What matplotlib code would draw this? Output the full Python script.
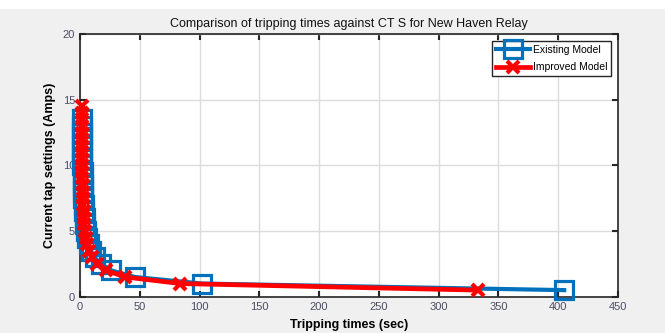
import matplotlib
matplotlib.use("Agg")
import matplotlib.pyplot as plt
from matplotlib.patches import Rectangle

plt.rcParams['font.family'] = ['Liberation Sans Narrow', 'Liberation Sans', 'DejaVu Sans']

# Current tap settings (Amps)
ct_existing = [0.5, 1.0, 1.5, 2.0, 2.5, 3.0, 3.5, 4.0, 4.5, 5.0, 5.5, 6.0, 6.5, 7.0,
               7.5, 8.0, 8.5, 9.0, 9.5, 10.0, 10.5, 11.0, 11.5, 12.0, 12.5, 13.0, 13.5]
t_existing = [405, 102, 45.9, 26.3, 17.2, 12.2, 9.2, 7.3, 6.0, 5.0, 4.3, 3.8, 3.4, 3.1,
              2.8, 2.6, 2.4, 2.25, 2.1, 2.0, 1.92, 1.83, 1.76, 1.70, 1.65, 1.60, 1.55]

ct_improved = [0.5, 1.0, 1.5, 2.0, 2.5, 3.0, 3.5, 4.0, 4.5, 5.0, 5.5, 6.0, 6.5, 7.0,
               7.5, 8.0, 8.5, 9.0, 9.5, 10.0, 10.5, 11.0, 11.5, 12.0, 12.5, 13.0, 13.5,
               14.0, 14.5]
t_improved = [333, 84, 37.9, 21.8, 14.3, 10.2, 7.8, 6.2, 5.1, 4.3, 3.7, 3.3, 3.0, 2.7,
              2.5, 2.3, 2.15, 2.0, 1.92, 1.83, 1.75, 1.69, 1.63, 1.58, 1.53, 1.49, 1.46,
              1.42, 1.39]

x_ticks = [0, 50, 100, 150, 200, 250, 300, 350, 400, 450]
y_ticks = [0, 5, 10, 15, 20]

fig = plt.figure(figsize=(6.65, 3.33), dpi=100, facecolor='#f0f0f0')
fig.patches.append(Rectangle((0, 1 - 9 / 333), 1, 9 / 333, transform=fig.transFigure,
                             facecolor='white', edgecolor='none', zorder=-1))
ax = fig.add_axes([80 / 665, 1 - 296.7 / 333, (618 - 80) / 665, (296.7 - 34) / 333])
ax.set_facecolor('white')

ax.plot(t_existing, ct_existing, color='#0072BD', linewidth=3, marker='s',
        markersize=13, markerfacecolor='none', markeredgewidth=2.3,
        label='Existing Model', zorder=3, clip_on=False)
ax.plot(t_improved, ct_improved, color='#ff0000', linewidth=3.4, marker='x',
        markersize=8, markeredgewidth=3, label='Improved Model', zorder=4,
        clip_on=False)

ax.set_xlim(0, 450)
ax.set_ylim(0, 20)
ax.set_xticks(x_ticks)
ax.set_yticks(y_ticks)
ax.grid(True, color='#dcdcdc', linewidth=1)
ax.set_axisbelow(True)
ax.tick_params(direction='in', top=True, right=True, length=4, width=1.5,
               colors='#262626', labelsize=8, labelcolor='#4d4d66')
for s in ax.spines.values():
    s.set_color('#262626')
    s.set_linewidth(1.2)

ax.set_title('Comparison of tripping times against CT S for New Haven Relay',
             fontsize=9, color='#111111', pad=5)
ax.set_xlabel('Tripping times (sec)', fontsize=9, fontweight='bold', labelpad=5)
ax.set_ylabel('Current tap settings (Amps)', fontsize=9, fontweight='bold', labelpad=5)

leg = ax.legend(loc='upper right', fontsize=7.5, handlelength=3.3, borderpad=0.35,
                labelspacing=0.7, handletextpad=0.2, fancybox=False,
                framealpha=1, edgecolor='#262626', borderaxespad=0.7)
leg.get_frame().set_linewidth(1)

fig.savefig('out.png', dpi=100, facecolor=fig.get_facecolor())
